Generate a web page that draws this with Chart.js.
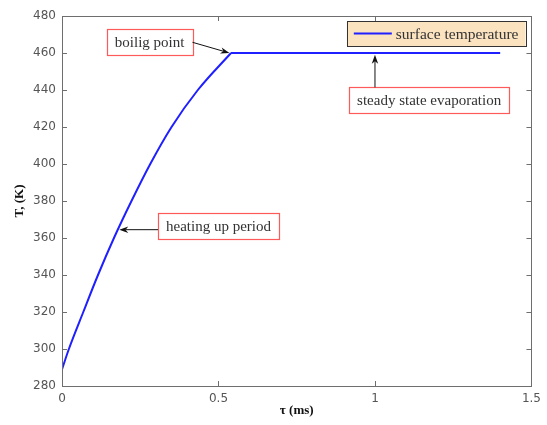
<!DOCTYPE html>
<html>
<head>
<meta charset="utf-8">
<script src="https://cdn.jsdelivr.net/npm/chart.js@4"></script>
<style>
  html, body { margin: 0; padding: 0; background: #fff; }
  #wrap { width: 547px; height: 425px; }
</style>
</head>
<body>
<div id="wrap"><canvas id="tempChart" width="547" height="425"></canvas></div>
<script>
// surface temperature of the droplet vs time, in two phases
const heatTau = [0, 0.022, 0.068, 0.115, 0.166, 0.222, 0.282, 0.35, 0.434, 0.54];
const heatTemp = [289, 300, 320, 340, 360, 380, 400, 420, 440, 460];
const steadyTau = [0.54, 1.4];
const steadyTemp = [460, 460];

const xTicks = [0, 0.5, 1, 1.5];
const yTicks = [280, 300, 320, 340, 360, 380, 400, 420, 440, 460, 480];

const seriesLabel = 'surface temperature';
const lineColor = '#1f1fff';

// callouts: text box centre and arrow tip, both in data units
const notes = [
    { text: 'boilig point', box: [0.28, 465.8], tip: [0.535, 460], side: 'right' },
    { text: 'steady state evaporation', box: [1.173, 434.4], tip: [1.0, 459], side: 'top' },
    { text: 'heating up period', box: [0.5, 366.6], tip: [0.183, 364.5], side: 'left' }
];

const AXIS_COLOR = '#6e6e6e';
const SERIF = '"Liberation Serif", "Times New Roman", serif';

function arrow(ctx, x0, y0, x1, y1) {
    const ang = Math.atan2(y1 - y0, x1 - x0);
    const len = 9, half = 3.2;
    const c = Math.cos(ang), s = Math.sin(ang);
    ctx.strokeStyle = '#111';
    ctx.fillStyle = '#111';
    ctx.lineWidth = 1;
    ctx.beginPath();
    ctx.moveTo(x0, y0);
    ctx.lineTo(x1 - c * len * 0.7, y1 - s * len * 0.7);
    ctx.stroke();
    ctx.beginPath();
    ctx.moveTo(x1, y1);
    ctx.lineTo(x1 - c * len - s * half, y1 - s * len + c * half);
    ctx.lineTo(x1 - c * len * 0.7, y1 - s * len * 0.7);
    ctx.lineTo(x1 - c * len + s * half, y1 - s * len - c * half);
    ctx.closePath();
    ctx.fill();
}

const frameAndNotes = {
    id: 'frameAndNotes',
    afterDatasetsDraw(chart) {
        const { ctx, chartArea: { top, bottom, left, right }, scales: { x, y } } = chart;
        ctx.save();

        // box round the plot and inward ticks on all four sides
        ctx.strokeStyle = AXIS_COLOR;
        ctx.lineWidth = 1;
        ctx.strokeRect(Math.round(left) + 0.5, Math.round(top) + 0.5, Math.round(right - left), Math.round(bottom - top));
        const tl = 5;
        ctx.beginPath();
        x.ticks.forEach(t => {
            const px = Math.round(x.getPixelForValue(t.value)) + 0.5;
            ctx.moveTo(px, bottom); ctx.lineTo(px, bottom - tl);
            ctx.moveTo(px, top); ctx.lineTo(px, top + tl);
        });
        y.ticks.forEach(t => {
            const py = Math.round(y.getPixelForValue(t.value)) + 0.5;
            ctx.moveTo(left, py); ctx.lineTo(left + tl, py);
            ctx.moveTo(right, py); ctx.lineTo(right - tl, py);
        });
        ctx.stroke();

        // legend in the upper right corner
        const ds = chart.data.datasets[0];
        ctx.font = '15.5px ' + SERIF;
        const lw = ctx.measureText(ds.label).width;
        const lgW = lw + 56, lgH = 25;
        const lgX = right - 6 - lgW, lgY = top + 5;
        ctx.fillStyle = '#fbe3c0';
        ctx.fillRect(lgX, lgY, lgW, lgH);
        ctx.strokeStyle = '#333';
        ctx.strokeRect(Math.round(lgX) + 0.5, Math.round(lgY) + 0.5, Math.round(lgW), lgH);
        ctx.strokeStyle = ds.borderColor;
        ctx.lineWidth = 2;
        ctx.beginPath();
        ctx.moveTo(lgX + 7, lgY + lgH / 2);
        ctx.lineTo(lgX + 45, lgY + lgH / 2);
        ctx.stroke();
        ctx.fillStyle = '#333';
        ctx.textBaseline = 'middle';
        ctx.textAlign = 'left';
        ctx.fillText(ds.label, lgX + 49, lgY + lgH / 2 + 1);

        // callouts with arrows
        ctx.font = '15px ' + SERIF;
        notes.forEach(n => {
            const cx = x.getPixelForValue(n.box[0]);
            const cy = y.getPixelForValue(n.box[1]);
            const tx = x.getPixelForValue(n.tip[0]);
            const ty = y.getPixelForValue(n.tip[1]);
            const w = ctx.measureText(n.text).width + 16, h = 26;
            const bx = cx - w / 2, by = cy - h / 2;
            ctx.fillStyle = '#fff';
            ctx.fillRect(bx, by, w, h);
            ctx.strokeStyle = '#ff5a5a';
            ctx.lineWidth = 1.2;
            ctx.strokeRect(Math.round(bx) + 0.5, Math.round(by) + 0.5, Math.round(w), h);
            ctx.fillStyle = '#333';
            ctx.textAlign = 'center';
            ctx.fillText(n.text, cx, cy + 1);
            let sx, sy;
            if (n.side === 'right') { sx = bx + w; sy = cy; }
            else if (n.side === 'left') { sx = bx; sy = ty; }
            else { sx = tx; sy = by; }
            arrow(ctx, sx, sy, tx, ty);
        });

        ctx.restore();
    }
};

const toPoints = (xs, ys) => xs.map((t, i) => ({ x: t, y: ys[i] }));
const tickFont = { family: '"DejaVu Sans", sans-serif', size: 12 };

new Chart(document.getElementById('tempChart'), {
    type: 'line',
    plugins: [frameAndNotes],
    data: {
        datasets: [{
            label: seriesLabel,
            data: toPoints(heatTau, heatTemp),
            borderColor: lineColor,
            borderWidth: 2,
            pointRadius: 0,
            cubicInterpolationMode: 'monotone',
            fill: false
        }, {
            label: seriesLabel,
            data: toPoints(steadyTau, steadyTemp),
            borderColor: lineColor,
            borderWidth: 2,
            pointRadius: 0,
            tension: 0,
            fill: false
        }]
    },
    options: {
        responsive: false,
        animation: false,
        devicePixelRatio: 1,
        layout: { padding: { left: 0, top: 16, right: 14, bottom: 0 } },
        plugins: { legend: { display: false }, tooltip: { enabled: false } },
        scales: {
            x: {
                type: 'linear',
                min: 0, max: 1.5,
                afterBuildTicks: s => { s.ticks = xTicks.map(v => ({ value: v })); },
                afterFit: s => { s.height = 39; },
                grid: { display: false, drawTicks: false },
                border: { display: false },
                ticks: { color: '#555', padding: 6, font: tickFont, callback: v => String(v) },
                title: {
                    display: true, text: 'τ (ms)', color: '#111',
                    font: { family: SERIF, size: 13, weight: 'bold' },
                    padding: { top: 0, bottom: 7 }
                }
            },
            y: {
                min: 280, max: 480,
                afterBuildTicks: s => { s.ticks = yTicks.map(v => ({ value: v })); },
                afterFit: s => { s.width = 62; },
                grid: { display: false, drawTicks: false },
                border: { display: false },
                ticks: { color: '#555', padding: 6, font: tickFont },
                title: {
                    display: true, text: 'T, (K)', color: '#111',
                    font: { family: SERIF, size: 13, weight: 'bold' },
                    padding: { top: 12, bottom: 0 }
                }
            }
        }
    }
});
</script>
</body>
</html>
